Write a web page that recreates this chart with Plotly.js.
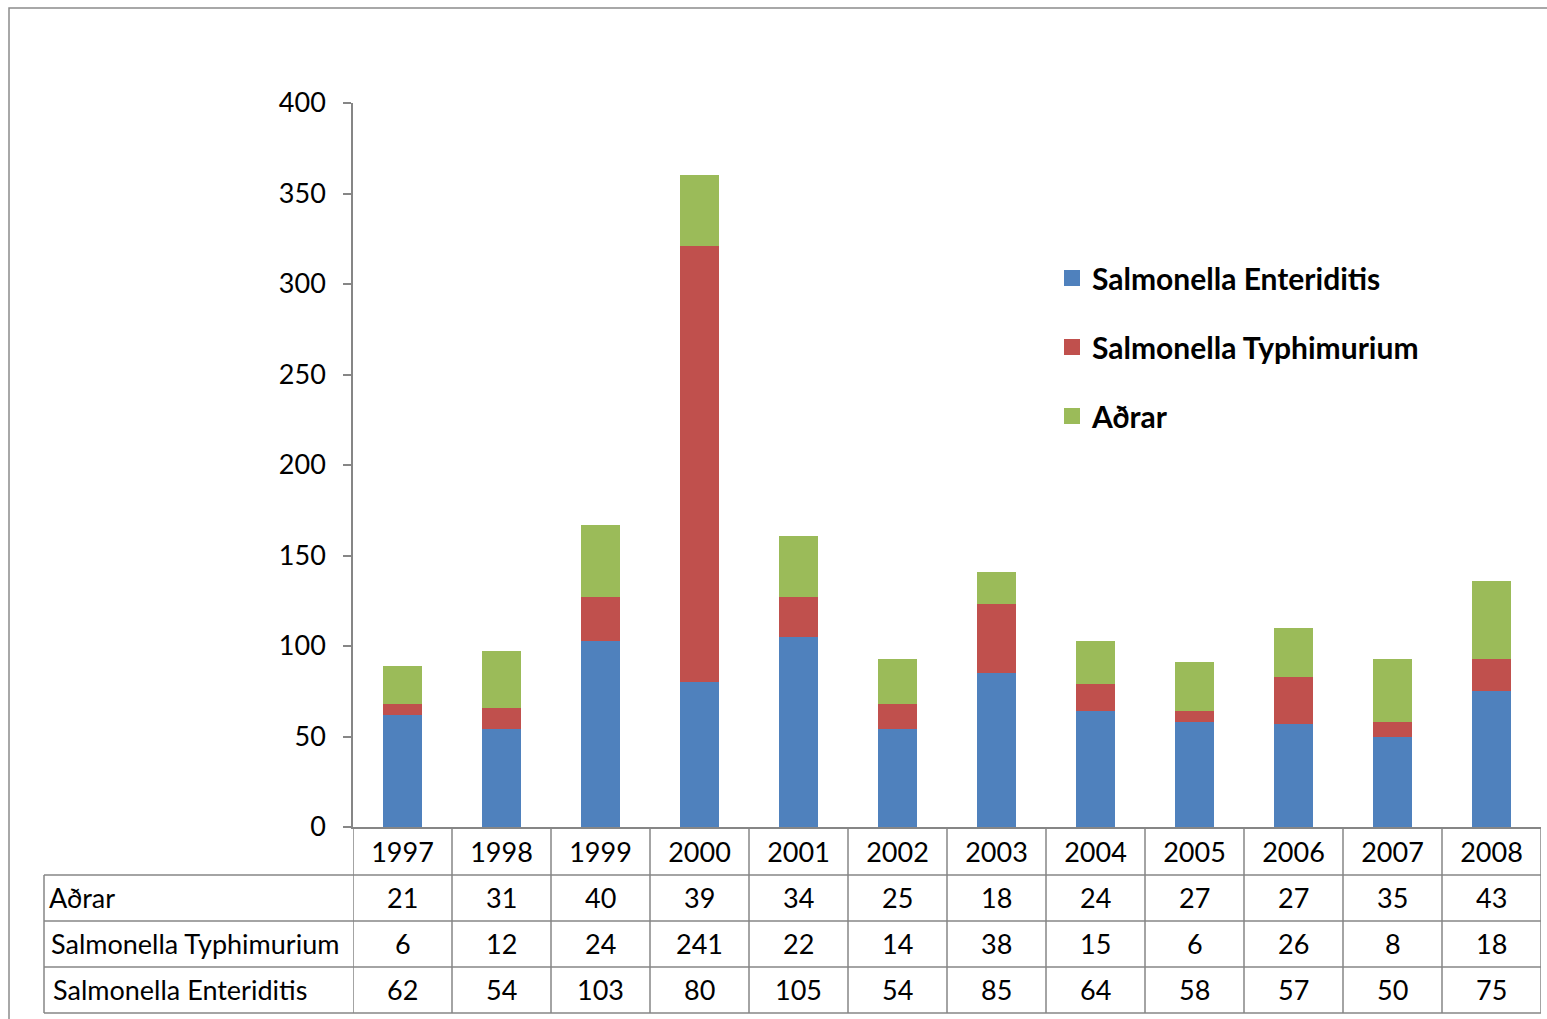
<!DOCTYPE html>
<html>
<head>
<meta charset="utf-8">
<script src="https://cdn.plot.ly/plotly-3.0.1.min.js"></script>
<style>html,body{margin:0;padding:0;background:#fff;}#chart{width:1547px;height:1019px;}</style>
</head>
<body>
<div id="chart"></div>
<script>
const years = ['1997','1998','1999','2000','2001','2002','2003','2004','2005','2006','2007','2008'];
const enteriditis = [62,54,103,80,105,54,85,64,58,57,50,75];
const typhimurium = [6,12,24,241,22,14,38,15,6,26,8,18];
const adrar = [21,31,40,39,34,25,18,24,27,27,35,43];
const seriesNames = ['Salmonella Enteriditis','Salmonella Typhimurium','Aðrar'];
const colors = ['#4F81BD','#C0504D','#9BBB59'];

const W = 1547, H = 1019;
const L = 353, R = 1541, T = 103, B = 827;
const px = x => (x - L) / (R - L);
const py = y => (B - y) / (B - T);
const FONT = 'Lato, "Open Sans", sans-serif';
const gridColor = '#868686';
const idx = years.map((_, i) => i);
const FS = 27;

const series = [enteriditis, typhimurium, adrar];
const traces = series.map((vals, i) => ({
  type: 'bar', x: idx, y: vals, name: seriesNames[i],
  marker: {color: colors[i]}, showlegend: false,
  hovertext: years, hoverinfo: 'text+y+name'
}));
series.forEach((vals, i) => {
  traces.push({
    type: 'scatter', mode: 'markers', x: [null], y: [null], name: seriesNames[i],
    marker: {symbol: 'square', size: 18, color: colors[i]},
    legendgroup: 'g' + i, showlegend: true, hoverinfo: 'skip'
  });
});

const shapes = [];
shapes.push({type:'rect', xref:'paper', yref:'paper', x0:px(9), x1:px(1560), y0:py(8), y1:py(1030), line:{color:'#8c8c8c', width:1.5}, fillcolor:'rgba(0,0,0,0)'});
for (let i = 0; i <= years.length; i++) {
  shapes.push({type:'line', xref:'x', yref:'paper', x0:i-0.5, x1:i-0.5, y0:py(827), y1:py(1013), line:{color:gridColor, width:1.5}});
}
shapes.push({type:'line', xref:'paper', yref:'paper', x0:px(44), x1:px(44), y0:py(875), y1:py(1013), line:{color:gridColor, width:1.5}});
[875, 921, 967, 1013].forEach(yy => {
  shapes.push({type:'line', xref:'paper', yref:'paper', x0:px(44), x1:px(R), y0:py(yy), y1:py(yy), line:{color:gridColor, width:1.5}});
});

const rows = [
  {label:'Aðrar', vals: adrar, yc: 897, lx: 47},
  {label:'Salmonella Typhimurium', vals: typhimurium, yc: 943, lx: 49},
  {label:'Salmonella Enteriditis', vals: enteriditis, yc: 989, lx: 51}
];
const annotations = [];
rows.forEach(r => {
  annotations.push({xref:'paper', yref:'paper', x:px(r.lx), y:py(r.yc), xanchor:'left', yanchor:'middle', text:r.label, showarrow:false, font:{family:FONT, size:FS, color:'#000'}});
  r.vals.forEach((v, j) => {
    annotations.push({xref:'x', yref:'paper', x:j, y:py(r.yc), xanchor:'center', yanchor:'middle', text:String(v), showarrow:false, font:{family:FONT, size:FS, color:'#000'}});
  });
});

const layout = {
  width: W, height: H,
  margin: {l: L, r: W - R, t: T, b: H - B, pad: 0},
  paper_bgcolor: '#fff', plot_bgcolor: '#fff',
  barmode: 'stack', bargap: 0.615,
  font: {family: FONT, size: FS, color: '#000'},
  xaxis: {
    type:'linear', range:[-0.5, years.length - 0.5], tickvals: idx, ticktext: years,
    showline:true, linecolor:gridColor, linewidth:1.5,
    ticks:'', showgrid:false, zeroline:false,
    tickfont:{family:FONT, size:FS, color:'#000'}, ticklabelstandoff: 1,
    fixedrange:true
  },
  yaxis: {
    range:[0,400], dtick:50, showline:true, linecolor:gridColor, linewidth:1.5,
    ticks:'outside', ticklen:8, tickcolor:gridColor, tickwidth:1.5,
    showgrid:false, zeroline:false,
    tickfont:{family:FONT, size:FS, color:'#000'}, ticklabelstandoff: 12,
    fixedrange:true
  },
  showlegend: true,
  legend: {
    x: px(1052), y: py(252), xanchor:'left', yanchor:'top',
    traceorder:'grouped', tracegroupgap: 27,
    font:{family:FONT, size:30, color:'#000', weight:'bold'},
    bgcolor:'rgba(0,0,0,0)', itemwidth:30
  },
  shapes: shapes,
  annotations: annotations
};

Plotly.newPlot('chart', traces, layout, {displayModeBar:false});
</script>
</body>
</html>
